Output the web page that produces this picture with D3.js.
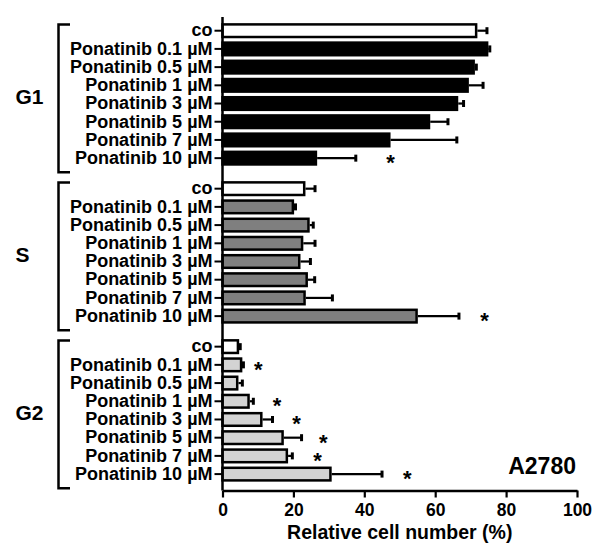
<!DOCTYPE html>
<html>
<head>
<meta charset="utf-8">
<script src="https://cdn.jsdelivr.net/npm/d3@7"></script>
<style>
  body { margin: 0; background: #fff; }
  svg text { font-family: "Liberation Sans", Arial, sans-serif; font-weight: bold; fill: #000; }
</style>
</head>
<body>
<div id="chart"></div>
<script>
// rows inside each cell cycle phase
const treatments = ["co", "Ponatinib 0.1 µM", "Ponatinib 0.5 µM", "Ponatinib 1 µM",
    "Ponatinib 3 µM", "Ponatinib 5 µM", "Ponatinib 7 µM", "Ponatinib 10 µM"];
const phases = ["G1", "S", "G2"];

// mean and error (%)
const g1Mean = [71.9, 75.0, 71.2, 69.5, 66.5, 58.6, 47.4, 26.7];
const g1Err = [2.7, 0.4, 0.4, 4.0, 1.5, 5.0, 18.7, 10.9];
const sMean = [23.4, 20.2, 24.6, 22.8, 22.0, 24.1, 23.5, 55.1];
const sErr = [2.7, 0.4, 1.0, 3.3, 2.8, 1.9, 7.5, 11.6];
const g2Mean = [4.7, 5.6, 4.5, 7.7, 11.3, 17.3, 18.5, 30.8];
const g2Err = [0.3, 0.3, 1.1, 1.0, 2.8, 5.0, 1.2, 14.2];

// where the significance stars sit (x value), null = no star
const g1Star = [null, null, null, null, null, null, null, 47.4];
const sStar = [null, null, null, null, null, null, null, 73.9];
const g2Star = [null, 10.1, null, 15.4, 20.9, 28.4, 26.8, 52.1];

const xTicks = [0, 20, 40, 60, 80, 100];
const xTitle = "Relative cell number (%)";
const cellLine = "A2780";

const phaseFill = {G1: "#000000", S: "#7f7f7f", G2: "#d3d3d3"};

const width = 593, height = 543;
const svg = d3.select("#chart").append("svg")
    .attr("width", width)
    .attr("height", height);

const x = d3.scaleLinear().domain([0, 100]).range([222.5, 577]);

const groupScale = d3.scaleBand()
    .domain(phases)
    .range([21.6, 483.2])
    .paddingInner(0.078);

const rowScale = d3.scaleBand()
    .domain(treatments)
    .range([0, groupScale.bandwidth()])
    .paddingInner(0.17)
    .paddingOuter(0.085);

const axisY = 490.5;
const sw = 2.5;

const table = {
    G1: {mean: g1Mean, err: g1Err, star: g1Star},
    S: {mean: sMean, err: sErr, star: sStar},
    G2: {mean: g2Mean, err: g2Err, star: g2Star}
};

phases.forEach(function (phase) {
    const g = svg.append("g")
        .attr("transform", `translate(0,${groupScale(phase)})`);
    const rows = treatments.map((t, i) => ({
        name: t,
        mean: table[phase].mean[i],
        err: table[phase].err[i],
        star: table[phase].star[i]
    }));

    // row labels
    const ax = g.append("g")
        .attr("transform", `translate(${x(0)},0)`)
        .call(d3.axisLeft(rowScale).tickSize(8).tickPadding(2));
    ax.select(".domain").remove();
    ax.selectAll(".tick line").attr("stroke", "#000").attr("stroke-width", 2);
    ax.selectAll(".tick text").style("font-size", "18px");

    // error bars
    rows.forEach(function (d) {
        const cy = rowScale(d.name) + rowScale.bandwidth() / 2;
        g.append("line")
            .attr("x1", x(d.mean)).attr("x2", x(d.mean + d.err))
            .attr("y1", cy).attr("y2", cy)
            .attr("stroke", "#000").attr("stroke-width", 2.2);
        g.append("line")
            .attr("x1", x(d.mean + d.err)).attr("x2", x(d.mean + d.err))
            .attr("y1", cy - 3.5).attr("y2", cy + 3.5)
            .attr("stroke", "#000").attr("stroke-width", 3);
    });

    // bars
    g.selectAll("rect.bar")
        .data(rows)
        .enter().append("rect")
        .attr("class", "bar")
        .attr("x", x(0))
        .attr("y", d => rowScale(d.name) + sw / 2)
        .attr("width", d => Math.max(0, x(d.mean) - x(0) - sw / 2))
        .attr("height", rowScale.bandwidth() - sw)
        .attr("fill", d => d.name === "co" ? "#ffffff" : phaseFill[phase])
        .attr("stroke", "#000")
        .attr("stroke-width", sw);

    // stars
    g.selectAll("text.star")
        .data(rows.filter(d => d.star !== null))
        .enter().append("text")
        .attr("class", "star")
        .attr("x", d => x(d.star))
        .attr("y", d => rowScale(d.name) + rowScale.bandwidth() / 2 + 12)
        .attr("text-anchor", "middle")
        .style("font-size", "22px")
        .text("*");

    // bracket
    const y0 = 3, y1 = groupScale.bandwidth() + 5;
    g.append("path")
        .attr("d", `M70,${y0}H58.5V${y1}H70`)
        .attr("fill", "none")
        .attr("stroke", "#000")
        .attr("stroke-width", 2.5);

    g.append("text")
        .attr("x", 15.5)
        .attr("y", groupScale.bandwidth() / 2 + 2)
        .attr("dy", "0.35em")
        .style("font-size", "21px")
        .text(phase);
});

// vertical axis line
svg.append("line")
    .attr("x1", x(0)).attr("x2", x(0))
    .attr("y1", 17).attr("y2", axisY)
    .attr("stroke", "#000").attr("stroke-width", 2.5);

// x axis
const xAxis = svg.append("g")
    .attr("transform", `translate(0,${axisY})`)
    .call(d3.axisBottom(x).tickValues(xTicks).tickSize(7).tickSizeOuter(0).tickPadding(6));
xAxis.select(".domain").attr("stroke", "#000").attr("stroke-width", 2.5);
xAxis.selectAll(".tick line").attr("stroke", "#000").attr("stroke-width", 2.2);
xAxis.selectAll(".tick text").style("font-size", "17.5px");

svg.append("text")
    .attr("x", (x(0) + x(100)) / 2)
    .attr("y", 538.5)
    .attr("text-anchor", "middle")
    .style("font-size", "19.5px")
    .text(xTitle);

svg.append("text")
    .attr("x", x(100) - 1)
    .attr("y", 473.5)
    .attr("text-anchor", "end")
    .style("font-size", "23px")
    .text(cellLine);
</script>
</body>
</html>
